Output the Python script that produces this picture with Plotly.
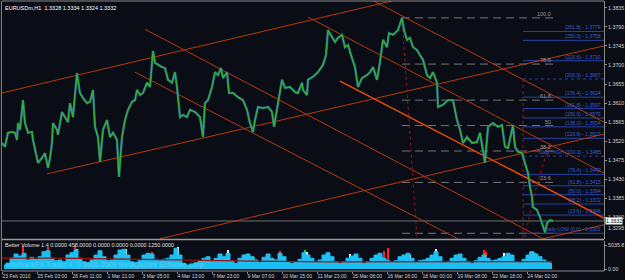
import plotly.graph_objects as go

# ---------------- data ----------------
bar = [2, 5, 8, 12, 15, 17, 18, 20, 23, 25, 28, 32, 33, 35, 38, 42, 45, 48, 50, 52, 53, 57, 58, 62, 65, 68, 70, 73,
       75, 77, 79, 80, 83, 87, 90, 93, 95, 98, 100, 102, 103, 107, 110, 113, 117, 119, 121, 122, 125, 128, 132, 135,
       137, 140, 143, 147, 150, 153, 155, 158, 162, 165, 168, 172, 175, 177, 180, 183, 187, 190, 195, 200, 203, 205,
       208, 212, 215, 218, 221, 223, 227, 229, 233, 238, 243, 247, 250, 253, 255, 258, 263, 268, 272, 274, 277, 278,
       282, 285, 290, 295, 298, 302, 303, 307, 308, 313, 318, 323, 326, 328, 332, 335, 338, 342, 345, 348, 352, 355,
       358, 362, 367, 370, 373, 377, 380, 383, 387, 389, 393, 398, 402, 404, 407, 410, 413, 417, 420, 423, 427, 430,
       433, 437, 438, 443, 448, 453, 457, 460, 463, 467, 472, 477, 480, 483, 485, 488, 493, 498, 502, 505, 508, 512,
       513, 515, 518, 522, 525, 528, 530, 532, 533, 537, 540, 543, 545, 547, 550, 553]
close = [1.3516, 1.3507, 1.3540, 1.3542, 1.3540, 1.3523, 1.3563, 1.3547, 1.3617, 1.3563, 1.3540, 1.3542, 1.3523,
         1.3499, 1.3469, 1.3481, 1.3492, 1.3457, 1.3480, 1.3516, 1.3563, 1.3547, 1.3535, 1.3589, 1.3577, 1.3565,
         1.3610, 1.3577, 1.3630, 1.3681, 1.3648, 1.3634, 1.3622, 1.3610, 1.3613, 1.3641, 1.3554, 1.3530, 1.3471,
         1.3530, 1.3547, 1.3570, 1.3530, 1.3540, 1.3523, 1.3436, 1.3510, 1.3530, 1.3570, 1.3594, 1.3613, 1.3617,
         1.3641, 1.3629, 1.3634, 1.3658, 1.3648, 1.3733, 1.3705, 1.3700, 1.3695, 1.3693, 1.3665, 1.3658, 1.3683,
         1.3648, 1.3577, 1.3582, 1.3577, 1.3594, 1.3589, 1.3577, 1.3530, 1.3610, 1.3617, 1.3648, 1.3683, 1.3676,
         1.3693, 1.3669, 1.3683, 1.3634, 1.3634, 1.3624, 1.3617, 1.3594, 1.3563, 1.3542, 1.3570, 1.3601, 1.3598,
         1.3601, 1.3589, 1.3554, 1.3594, 1.3617, 1.3665, 1.3646, 1.3648, 1.3636, 1.3634, 1.3658, 1.3641, 1.3629,
         1.3665, 1.3672, 1.3683, 1.3700, 1.3723, 1.3782, 1.3764, 1.3754, 1.3764, 1.3771, 1.3742, 1.3747, 1.3716,
         1.3695, 1.3648, 1.3669, 1.3676, 1.3683, 1.3695, 1.3665, 1.3707, 1.3759, 1.3742, 1.3775, 1.3771, 1.3782,
         1.3811, 1.3782, 1.3759, 1.3764, 1.3742, 1.3735, 1.3723, 1.3712, 1.3676, 1.3669, 1.3683, 1.3658, 1.3601,
         1.3606, 1.3617, 1.3617, 1.3570, 1.3547, 1.3516, 1.3530, 1.3516, 1.3518, 1.3540, 1.3492, 1.3469, 1.3554,
         1.3563, 1.3554, 1.3558, 1.3507, 1.3504, 1.3547, 1.3558, 1.3507, 1.3495, 1.3492, 1.3469, 1.3445, 1.3412,
         1.3389, 1.3365, 1.3358, 1.3341, 1.3318, 1.3305, 1.3327, 1.3334, 1.3332]

x_tick_bars = [2, 37, 72, 107, 142, 177, 212, 247, 282, 317, 352, 387, 422, 457, 492, 527]
x_tick_text = ["23 Feb 2010", "25 Feb 03:00", "26 Feb 11:00", "1 Mar 21:00", "3 Mar 05:00", "4 Mar 13:00",
               "7 Mar 23:00", "9 Mar 07:00", "10 Mar 15:00", "11 Mar 23:00", "15 Mar 08:00", "16 Mar 16:00",
               "18 Mar 00:00", "19 Mar 08:00", "22 Mar 18:00", "24 Mar 02:00"]
price_ticks = [1.3835, 1.3790, 1.3745, 1.3700, 1.3655, 1.3610, 1.3565, 1.3520, 1.3475, 1.3430, 1.3385, 1.3340]
price_tick_text = ["1.3835", "1.3790", "1.3745", "1.3700", "1.3655", "1.3610", "1.3565", "1.3520", "1.3475",
                   "1.3430", "1.3385", "1.3340"]
bottom_price_label = "1.3295"
last_price = 1.3332

# trend channel lines (start bar, start price, end bar, end price)
tl_x0 = [2, 47, 160, 543, 135, 145, 308, 372]
tl_p0 = [1.3634, 1.3443, 1.3290, 1.3290, 1.3683, 1.3784, 1.3813, 1.3853]
tl_x1 = [392, 604, 604, 604, 458, 543, 604, 604]
tl_p1 = [1.3851, 1.3745, 1.3537, 1.3323, 1.3290, 1.3290, 1.3445, 1.3565]
bright_x = [340, 604]
bright_p = [1.3662, 1.3339]

# dotted dark red construction lines
v1_x = [402, 417]
v1_p = [1.3813, 1.3290]
v2_x = [523, 523]
v2_p = [1.3667, 1.3290]
arc_x = [525, 533, 541, 550]
arc_p = [1.3294, 1.3382, 1.3452, 1.3516]

# Fibonacci retracement (gray)
fib_x = [402, 555]
fib_p = [1.3811, 1.3702, 1.3617, 1.3557, 1.3497, 1.3423, 1.3303]
fib_txt = ["100.0", "78.6", "61.8", "50", "38.2", "23.6", ""]

# daily pivot expansion levels (blue)
piv_x = [523, 604]
piv_p = [1.3779, 1.3758, 1.3710, 1.3667, 1.3624, 1.3597, 1.3575, 1.3554, 1.3527, 1.3485, 1.3442, 1.3415,
         1.3394, 1.3372, 1.3346, 1.3303]
piv_txt = ["(261.8) - 1.3779", "(250.0) - 1.3758", "(223.6) - 1.3710", "(200.0) - 1.3667", "(176.4) - 1.3624",
           "(161.8) - 1.3597", "(150.0) - 1.3575", "(138.2) - 1.3554", "(123.6) - 1.3527",
           "Daily HIGH (100.0) - 1.3485", "(76.4) - 1.3442", "(61.8) - 1.3415", "(50.0) - 1.3394",
           "(38.2) - 1.3372", "(23.6) - 1.3346", "Daily LOW (0.0) - 1.3303"]

# Better Volume indicator
vol_bar = list(range(4, 553, 4))
volume = [840, 1200, 2250, 3150, 2730, 3300, 1890, 2460, 2040, 2580, 3630, 3840, 2250, 1740, 1890, 1530, 2940,
          3420, 3990, 2250, 1530, 1320, 1890, 2940, 3840, 2580, 1740, 1890, 2940, 3990, 4140, 2940, 1530, 1320,
          1740, 2940, 3300, 3150, 2040, 1740, 2040, 2250, 2940, 4350, 2940, 1200, 840, 1050, 1320, 1740, 2250,
          2580, 1530, 2250, 3150, 2580, 3300, 1740, 1200, 2250, 2940, 3150, 2580, 1890, 1320, 2460, 3150, 2250,
          1890, 3300, 2580, 1530, 1200, 1530, 2040, 3420, 2940, 2250, 1530, 1890, 2940, 3420, 2580, 1530, 1200,
          1530, 2250, 2730, 3150, 2250, 1200, 1530, 2250, 2940, 3300, 2250, 1740, 1530, 1740, 2580, 2940, 3300,
          2250, 1320, 1740, 1890, 2250, 2940, 3630, 2580, 1320, 1530, 2250, 2940, 3150, 2250, 1530, 1200, 1740,
          2460, 2940, 2250, 1740, 1890, 2250, 2580, 3300, 2940, 1530, 1320, 2040, 2940, 3630, 3150, 2580, 1890,
          1530, 1200]
sig_bar = [23, 48, 68, 75, 77, 123, 126, 152, 176, 178, 228, 247, 254, 267, 280, 305, 307, 330, 350, 382, 384,
           388, 410, 436, 460, 484, 486, 504, 507, 530, 535]
sig_vol = [4900, 4700, 3000, 5000, 4200, 4000, 4300, 3600, 4300, 4600, 4000, 3000, 2600, 3000, 3800, 3900, 3500,
           2200, 3100, 2600, 3700, 4500, 3000, 4300, 3200, 3900, 3500, 3400, 2600, 3500, 3300]
sig_kind = ["r", "r", "g", "r", "w", "r", "w", "r", "m", "w", "w", "g", "g", "g", "r", "g", "w", "g", "w", "g",
            "r", "r", "w", "w", "w", "r", "r", "w", "g", "g", "g"]
ma_bar = [2, 27, 52, 77, 102, 127, 152, 177, 202, 227, 252, 277, 302, 327, 352, 377, 402, 427, 452, 477, 502,
          527, 552]
ma_vol = [2300, 2350, 2300, 2250, 2200, 2100, 2000, 1900, 1800, 1700, 1600, 1600, 1550, 1500, 1500, 1550, 1500,
          1500, 1450, 1450, 1500, 1500, 1550]

# ---------------- figure ----------------
BG = "#0a0d15"
GRID = "#8a8a8a"
TXT = "#d2d2d2"
FONT = "Liberation Sans, Arial, sans-serif"
ORANGE = "#b83a0c"
AX_FS = 5.3

fig = go.Figure()

# bid line
fig.add_trace(go.Scatter(x=[2, 604], y=[last_price, last_price], mode="lines",
                         line=dict(color="#707070", width=1), hoverinfo="skip", showlegend=False))

# fib gray dashed levels
for p in fib_p:
    fig.add_trace(go.Scatter(x=fib_x, y=[p, p], mode="lines",
                             line=dict(color="#777777", width=1, dash="8px,5px"),
                             hoverinfo="skip", showlegend=False))

# pivot blue levels
for i, p in enumerate(piv_p):
    fig.add_trace(go.Scatter(x=piv_x, y=[p, p], mode="lines",
                             line=dict(color="#2544a8", width=1,
                                       dash="dot" if i in (3, 9) else "solid"),
                             hoverinfo="skip", showlegend=False))

# trend lines
for x0, p0, x1, p1 in zip(tl_x0, tl_p0, tl_x1, tl_p1):
    fig.add_trace(go.Scatter(x=[x0, x1], y=[p0, p1], mode="lines",
                             line=dict(color=ORANGE, width=1), hoverinfo="skip", showlegend=False))
fig.add_trace(go.Scatter(x=bright_x, y=bright_p, mode="lines",
                         line=dict(color="#f04a0a", width=1.5), hoverinfo="skip", showlegend=False))

for xs, ps in ((v1_x, v1_p), (v2_x, v2_p), (arc_x, arc_p)):
    fig.add_trace(go.Scatter(x=xs, y=ps, mode="lines",
                             line=dict(color="#a01414", width=1, dash="dot"),
                             hoverinfo="skip", showlegend=False))

# price
fig.add_trace(go.Scatter(x=bar, y=close, mode="lines",
                         line=dict(color="#2a6a90", width=2.4), hoverinfo="skip", showlegend=False))
fig.add_trace(go.Scatter(x=bar, y=close, mode="lines",
                         line=dict(color="#33b033", width=1.3), hoverinfo="skip", showlegend=False))

# volume panel
fig.add_trace(go.Scatter(x=vol_bar, y=volume, mode="lines", line=dict(color="#1cc0f2", width=1, shape="hvh"),
                         fill="tozeroy", fillcolor="#1cc0f2",
                         xaxis="x2", yaxis="y2", hoverinfo="skip", showlegend=False))
kind_col = {"r": "#ff2222", "g": "#10dd10", "w": "#ffffff", "m": "#ff22ff"}
fig.add_trace(go.Bar(x=sig_bar, y=sig_vol, width=1.3,
                     marker=dict(color=[kind_col[k] for k in sig_kind], line=dict(width=0)),
                     xaxis="x2", yaxis="y2", hoverinfo="skip", showlegend=False))
fig.add_trace(go.Scatter(x=ma_bar, y=ma_vol, mode="lines", line=dict(color="#9c1010", width=1.2),
                         xaxis="x2", yaxis="y2", hoverinfo="skip", showlegend=False))

annotations = []
for p, t in zip(fib_p, fib_txt):
    if t:
        annotations.append(dict(x=553, y=p, xref="x", yref="y", text=t, showarrow=False, xanchor="right",
                                yanchor="bottom", yshift=-1, font=dict(family=FONT, size=5.5, color="#9a9a9a")))
for p, t in zip(piv_p, piv_txt):
    annotations.append(dict(x=603, y=p, xref="x", yref="y", text=t, showarrow=False, xanchor="right",
                            yanchor="bottom", yshift=-1, font=dict(family=FONT, size=5, color="#3d5fd6")))
annotations += [
    dict(x=0, y=1, xref="paper", yref="paper", xanchor="left", yanchor="top", xshift=1, yshift=-2,
         text="EURUSDm,H1  1.3328 1.3334 1.3324 1.3332", showarrow=False,
         font=dict(family=FONT, size=5.5, color="#ffffff")),
    dict(x=0, y=0.0963, xref="paper", yref="paper", xanchor="left", yanchor="middle", xshift=1,
         text="Better Volume 1.4 0.0000 458.0000 0.0000 0.0000 0.0000 1250.0000", showarrow=False,
         font=dict(family=FONT, size=5.5, color="#e0e0e0")),
    dict(x=0, y=0.022, xref="paper", yref="paper", xanchor="left", yanchor="middle", xshift=2,
         text="InterbankFX Trader 4, © 2001-2009 MetaQuotes Software Corp.", showarrow=False,
         font=dict(family=FONT, size=7, color="rgba(255,255,255,0.28)")),
    dict(x=1, y=1.33154, xref="paper", yref="y", xanchor="left", yanchor="middle", xshift=2,
         text=bottom_price_label, showarrow=False, font=dict(family=FONT, size=AX_FS, color=TXT)),
    dict(x=1, y=last_price, xref="paper", yref="y", xanchor="left", yanchor="middle", xshift=1,
         text=f"{last_price:.4f}", showarrow=False, bgcolor="#ffffff", borderpad=0,
         font=dict(family=FONT, size=AX_FS, color="#000000")),
]

MAIN_DOM = [0.1185, 1.0]
IND_DOM = [0.0, 0.1111]

shapes = [
    dict(type="line", xref="paper", yref="paper", x0=0, x1=1, y0=1, y1=1, line=dict(color=GRID, width=1)),
    dict(type="line", xref="paper", yref="paper", x0=-0.001, x1=-0.001, y0=0, y1=1,
         line=dict(color=GRID, width=1)),
    dict(type="line", xref="paper", yref="paper", x0=0, x1=1, y0=0.1167, y1=0.1167,
         line=dict(color="#9a9a9a", width=1.5)),
    dict(type="line", xref="paper", yref="paper", x0=0, x1=1, y0=0, y1=0, line=dict(color=GRID, width=1)),
]

fig.update_layout(
    width=625, height=280,
    margin=dict(l=2, r=21, t=1, b=9, autoexpand=False),
    paper_bgcolor=BG, plot_bgcolor=BG,
    barmode="overlay", bargap=0,
    showlegend=False,
    annotations=annotations,
    shapes=shapes,
    xaxis=dict(domain=[0, 1], anchor="y", range=[2, 604], showticklabels=False, showgrid=False,
               zeroline=False, showline=False, ticks=""),
    xaxis2=dict(domain=[0, 1], anchor="y2", matches="x", range=[2, 604], showgrid=False, zeroline=False,
                showline=False, tickmode="array", tickvals=x_tick_bars, ticktext=x_tick_text,
                ticks="outside", ticklen=2, tickcolor=GRID, ticklabelposition="outside right",
                tickangle=0, automargin=False,
                tickfont=dict(family=FONT, size=5, color=TXT)),
    yaxis=dict(domain=MAIN_DOM, anchor="x", side="right", range=[1.32895, 1.38508], showgrid=False,
               zeroline=False, showline=True, linecolor=GRID, linewidth=1, tickmode="array",
               tickvals=price_ticks, ticktext=price_tick_text, ticks="outside", ticklen=2, tickcolor=GRID,
               automargin=False, tickfont=dict(family=FONT, size=AX_FS, color=TXT)),
    yaxis2=dict(domain=IND_DOM, anchor="x2", side="right", range=[-420, 5880], showgrid=False,
                zeroline=False, showline=True, linecolor=GRID, linewidth=1, tickmode="array",
                tickvals=[5035.8, 0], ticktext=["5035.8", "0.00"], ticks="outside", ticklen=2, tickcolor=GRID,
                automargin=False, tickfont=dict(family=FONT, size=AX_FS, color=TXT)),
)

fig.write_html("out.html")
